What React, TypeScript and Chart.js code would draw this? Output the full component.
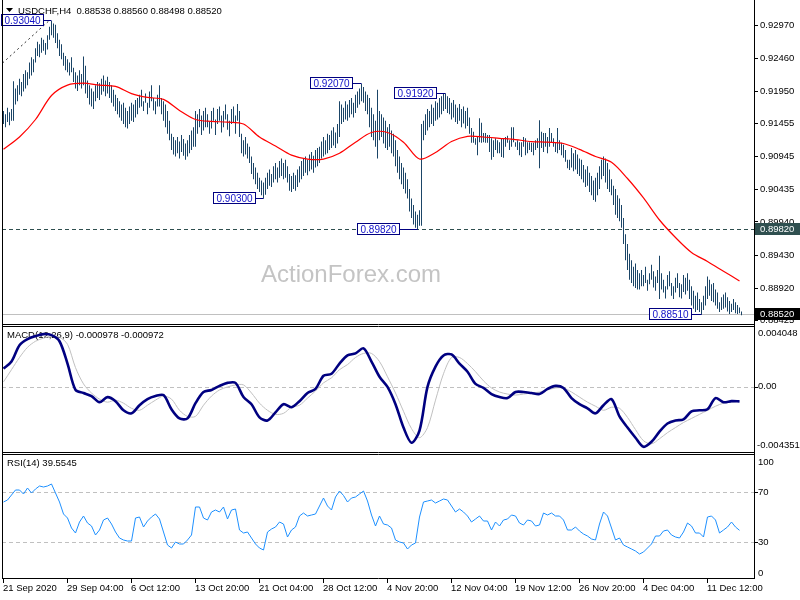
import React, { useEffect, useRef } from 'react';
import { Chart, registerables } from 'chart.js';
Chart.register(...registerables);

// ---------- DATA ----------
const symbolTitle = 'USDCHF,H4';
const lastOHLC = [0.88538, 0.8856, 0.88498, 0.8852];
const watermark = 'ActionForex.com';

// bar highs / lows in pips (0.0001)
const highPips = [
  9165,9160,9170,9163,9168,9211,9200,9205,9215,9210,
  9222,9228,9225,9240,9248,9245,9262,9272,9268,9278,
  9275,9270,9282,9295,9304,9300,9298,9285,9275,9268,
  9255,9250,9245,9240,9248,9232,9225,9220,9228,9222,
  9249,9235,9212,9205,9200,9195,9205,9210,9208,9215,
  9220,9212,9218,9210,9205,9198,9190,9185,9180,9175,
  9178,9170,9165,9172,9178,9175,9182,9185,9190,9198,
  9180,9192,9178,9195,9205,9185,9180,9190,9205,9185,
  9180,9175,9165,9150,9130,9125,9120,9125,9118,9128,
  9122,9115,9120,9128,9135,9140,9165,9160,9168,9158,
  9165,9170,9160,9148,9165,9170,9152,9168,9172,9158,
  9165,9175,9160,9150,9168,9172,9158,9176,9165,9130,
  9120,9125,9115,9110,9095,9085,9078,9070,9062,9058,
  9055,9062,9070,9075,9068,9080,9085,9078,9088,9092,
  9085,9090,9080,9068,9065,9070,9066,9075,9080,9088,
  9092,9095,9090,9098,9102,9096,9105,9108,9110,9118,
  9125,9120,9130,9128,9135,9140,9132,9145,9180,9175,
  9170,9180,9175,9182,9185,9178,9190,9195,9200,9207,
  9202,9195,9190,9185,9170,9160,9150,9198,9165,9160,
  9155,9150,9140,9145,9135,9130,9120,9105,9095,9085,
  9078,9070,9060,9045,9030,9020,9010,9005,9012,9145,
  9150,9160,9168,9165,9175,9170,9180,9178,9185,9188,
  9192,9192,9188,9185,9178,9182,9175,9170,9176,9168,
  9172,9165,9170,9155,9139,9133,9123,9125,9154,9147,
  9131,9131,9128,9128,9123,9120,9123,9120,9117,9123,
  9123,9125,9127,9120,9140,9140,9117,9120,9117,9117,
  9125,9123,9117,9117,9116,9116,9120,9123,9151,9133,
  9131,9131,9125,9139,9131,9123,9117,9139,9120,9116,
  9113,9105,9090,9090,9108,9100,9105,9098,9092,9090,
  9082,9075,9080,9070,9065,9058,9062,9070,9080,9090,
  9095,9092,9085,9075,9060,9050,9045,9035,9030,9020,
  9000,8975,8960,8945,8935,8925,8930,8920,8915,8920,
  8912,8925,8905,8915,8928,8918,8910,8920,8942,8915,
  8905,8895,8912,8918,8900,8895,8908,8915,8900,8898,
  8912,8908,8915,8905,8895,8888,8880,8885,8875,8870,
  8880,8895,8910,8905,8898,8900,8890,8885,8870,8878,
  8882,8885,8878,8872,8868,8875,8870,8866,8862,8856,
];
const lowPips = [
  9145,9140,9148,9143,9150,9150,9175,9180,9190,9188,
  9195,9200,9205,9215,9220,9225,9240,9250,9248,9255,
  9258,9252,9260,9275,9282,9278,9270,9262,9250,9245,
  9235,9228,9225,9220,9225,9210,9200,9196,9205,9200,
  9205,9192,9185,9175,9172,9168,9180,9185,9182,9190,
  9195,9188,9192,9185,9178,9172,9165,9160,9155,9150,
  9145,9140,9138,9145,9150,9148,9155,9160,9170,9172,
  9165,9178,9160,9170,9180,9166,9160,9172,9172,9160,
  9150,9140,9130,9120,9105,9098,9095,9100,9092,9102,
  9096,9090,9095,9100,9105,9110,9110,9130,9140,9128,
  9135,9140,9140,9130,9138,9150,9128,9145,9150,9132,
  9140,9152,9136,9126,9145,9148,9130,9150,9125,9100,
  9095,9098,9092,9085,9068,9060,9052,9045,9040,9035,
  9030,9036,9045,9050,9048,9055,9060,9055,9062,9065,
  9060,9062,9055,9042,9040,9045,9042,9048,9055,9060,
  9065,9070,9066,9072,9075,9070,9078,9080,9085,9092,
  9095,9098,9100,9105,9108,9112,9108,9115,9125,9145,
  9148,9152,9150,9155,9160,9155,9162,9170,9175,9180,
  9178,9165,9160,9140,9125,9120,9110,9092,9120,9125,
  9115,9108,9105,9110,9100,9095,9080,9070,9060,9052,
  9045,9038,9030,9010,9000,8990,8985,8982,8988,8988,
  9120,9128,9135,9140,9145,9142,9150,9152,9155,9160,
  9165,9168,9162,9160,9152,9155,9148,9145,9150,9140,
  9146,9138,9142,9130,9116,9116,9113,9097,9117,9116,
  9117,9116,9116,9102,9090,9094,9105,9100,9100,9094,
  9093,9110,9116,9105,9110,9117,9110,9105,9097,9094,
  9110,9097,9100,9105,9102,9097,9105,9108,9077,9108,
  9102,9110,9100,9110,9116,9110,9102,9100,9105,9097,
  9093,9087,9077,9074,9078,9072,9075,9068,9065,9060,
  9055,9048,9050,9040,9035,9028,9025,9035,9045,9060,
  9065,9055,9045,9040,9035,9020,9005,9000,8995,8985,
  8960,8935,8920,8905,8900,8895,8892,8890,8890,8895,
  8895,8900,8888,8898,8905,8893,8888,8900,8875,8890,
  8885,8876,8890,8895,8880,8875,8885,8892,8878,8876,
  8886,8882,8888,8875,8865,8860,8855,8858,8855,8851,
  8858,8865,8875,8880,8872,8870,8865,8860,8855,8858,
  8860,8862,8856,8852,8855,8858,8853,8852,8853,8850,
];

// moving average (pips), one value every maStep bars
const maStep = 8;
const maPips = [
  9106,9125,9152,9189,9205,9208,9205,9203,9192,9186,9183,9166,9152,9149,9148,9145,
  9125,9111,9097,9091,9091,9100,9117,9132,9132,9117,9091,9101,9118,9126,9125,9123,
  9121,9118,9117,9115,9106,9095,9086,9061,9031,8997,8970,8947,8933,8918,8903,
];

// MACD main / signal (x 1e-6), one value every macdStep bars
const macdStep = 4;
const macdMain = [
  1205,1678,2762,3168,3371,3506,3439,3032,1543,-217,-420,-623,-1029,-691,-962,-1571,
  -1774,-1233,-826,-623,-556,-1503,-2113,-2113,-1097,-353,-217,54,257,257,-691,
  -1165,-2045,-2248,-1707,-1165,-1368,-962,-420,-149,731,866,1543,2085,2220,2559,1678,
  663,-14,-1165,-2722,-3738,-2925,-14,1340,2085,2152,1543,1001,189,-82,-488,-691,
  -759,-353,-353,-420,-488,-149,54,-82,-759,-1165,-1436,-1774,-1233,-826,-1977,-2722,
  -3399,-4008,-3670,-2993,-2451,-2248,-2180,-1639,-1571,-1503,-759,-1029,-962,-978,
];
const macdSignal = [
  324,1137,1949,2626,3032,3236,3371,3303,2829,1272,189,-420,-826,-1029,-894,-1097,
  -1436,-1571,-1233,-894,-623,-826,-1571,-1978,-1978,-1233,-623,-217,-16,121,121,
  -420,-1097,-1571,-1842,-1774,-1368,-1233,-759,-284,257,595,1137,1475,1949,2220,2220,
  1678,663,-420,-1639,-2790,-3399,-2722,-894,866,1949,1949,1543,1001,392,-82,-353,
  -488,-556,-488,-420,-353,-217,-82,-82,-353,-691,-1029,-1300,-1571,-1368,-1436,-2045,
  -2858,-3602,-3806,-3467,-3061,-2722,-2384,-2113,-1842,-1571,-1300,-1097,-1029,-972,
];

// RSI(14), one value every rsiStep bars
const rsiStep = 2;
const rsiValues = [
  62.2,63.8,67.8,71.8,71.8,68.6,73.4,69.4,72.6,75,
  74.2,75,76.6,69.4,62.2,52.6,49.4,41.4,37.4,46.2,
  51,45.4,43,35.8,39.8,47.8,49.4,44.6,38.2,33.4,
  31.8,31,31,49.4,50.2,42.2,47,50.2,52.6,48.6,
  38.2,27.8,25.4,30.2,28.6,28.6,31.8,35.8,58.2,58.2,
  49.4,47.8,54.2,55.8,54.2,58.2,48.6,55.8,56.6,39.8,
  37.4,38.2,33.4,28.6,25.4,23.8,38.2,40.6,42.2,46.2,
  44.6,34.2,39.8,42.2,51,53.4,51,51.8,52.6,59,
  65.4,59,55.8,66.2,71,67.4,62.2,65.4,66.2,68.6,
  71,63,51.8,43,51,44.6,43.8,41.4,31.8,30.2,
  29.4,24.6,27.8,29.4,50.2,62.2,63,63.8,61.4,63,
  64.6,63.8,59,54.2,56.6,54.2,51,46.2,48.6,51,
  47,47,39.8,46.2,43,47.8,48.6,51.8,51,45.4,
  43.8,47.8,47,43,43.8,53.4,51.8,53.4,51,51,
  47.8,39.8,39.8,42.2,39,36.6,35,32.6,31.8,44.6,
  54.2,51,41.4,31.8,33.4,27.8,26.2,24.6,23,20.6,
  22.2,25.4,28.6,35,35,39,39.8,35.8,34.2,33.4,
  38.2,45.4,43,37.4,37.4,34.2,50.2,51,47.8,37.4,
  39.8,42.2,46.2,42.2,39.5545,
];

const priceTicks = [0.88425, 0.8892, 0.8943, 0.8994, 0.90435, 0.90945, 0.91455, 0.9195, 0.9246, 0.9297];
const macdMax = 0.004048;
const macdMin = -0.004351;
const rsiLevels = [70, 30];
const timeLabels = [
  '21 Sep 2020', '29 Sep 04:00', '6 Oct 12:00', '13 Oct 20:00', '21 Oct 04:00', '28 Oct 12:00',
  '4 Nov 20:00', '12 Nov 04:00', '19 Nov 12:00', '26 Nov 20:00', '4 Dec 04:00', '11 Dec 12:00',
];
const timeLabelEvery = 32;
const swingBars = [24, 179, 221, 130, 207, 349];
const swingPrices = [0.9304, 0.9207, 0.9192, 0.903, 0.8982, 0.8851];
const supportLevel = 0.8982;
const trendBars = [-0.5, 23];
const trendPrices = [0.9239, 0.9305];

// ---------- STYLE ----------
const FONT = '"Liberation Sans", Arial, sans-serif';
const PAD_L = 2;
const PAD_R = 46;
const X_MIN = -0.75;
const X_MAX = 375.25;
const BAR_COLOR = '#1b4567';
const swingGaps = [8, 10, 9, 9, 19, 11];

function hline(ctx: CanvasRenderingContext2D, x1: number, x2: number, y: number, color: string) {
  ctx.strokeStyle = color;
  ctx.lineWidth = 1;
  ctx.beginPath();
  ctx.moveTo(x1, y);
  ctx.lineTo(x2, y);
  ctx.stroke();
}
function vline(ctx: CanvasRenderingContext2D, x: number, y1: number, y2: number, color: string) {
  ctx.strokeStyle = color;
  ctx.lineWidth = 1;
  ctx.beginPath();
  ctx.moveTo(x, y1);
  ctx.lineTo(x, y2);
  ctx.stroke();
}

function panelOptions(yMin: number, yMax: number, padTop: number, padBottom: number): any {
  return {
    animation: false,
    responsive: false,
    maintainAspectRatio: false,
    devicePixelRatio: 1,
    events: [],
    layout: { padding: { left: PAD_L, right: PAD_R, top: padTop, bottom: padBottom } },
    plugins: { legend: { display: false }, tooltip: { enabled: false }, title: { display: false } },
    scales: {
      x: { type: 'linear', min: X_MIN, max: X_MAX, display: false, offset: false },
      y: { type: 'linear', min: yMin, max: yMax, display: false },
    },
  };
}

const mainDecor = {
  id: 'mainDecor',
  beforeDatasetsDraw(chart: any) {
    const { ctx, chartArea: a, scales } = chart;
    const y = scales.y;
    ctx.save();
    ctx.font = `24px ${FONT}`;
    ctx.fillStyle = '#c4c4c4';
    ctx.textAlign = 'center';
    ctx.textBaseline = 'middle';
    ctx.fillText(watermark, a.left + 349, 275);

    const yc = Math.floor(y.getPixelForValue(lastOHLC[3])) + 0.5;
    hline(ctx, a.left, a.right, yc, '#c0c0c0');
    const ys = Math.floor(y.getPixelForValue(supportLevel)) + 0.5;
    ctx.setLineDash([4, 3]);
    hline(ctx, a.left, a.right, ys, '#2f4f4f');
    ctx.setLineDash([]);

    ctx.fillStyle = '#000';
    ctx.beginPath();
    ctx.moveTo(6, 8);
    ctx.lineTo(13, 8);
    ctx.lineTo(9.5, 12);
    ctx.closePath();
    ctx.fill();
    ctx.font = `9.5px ${FONT}`;
    ctx.textAlign = 'left';
    ctx.textBaseline = 'middle';
    ctx.fillText(`${symbolTitle}  ${lastOHLC.map((v) => v.toFixed(5)).join(' ')}`, 18, 11);
    ctx.restore();
  },
  afterDatasetsDraw(chart: any) {
    const { ctx, chartArea: a, scales, height } = chart;
    const x = scales.x;
    const y = scales.y;
    ctx.save();
    ctx.font = `10px ${FONT}`;
    ctx.textAlign = 'left';
    ctx.textBaseline = 'middle';
    swingBars.forEach((bar, n) => {
      const px = x.getPixelForValue(bar);
      const py = Math.floor(y.getPixelForValue(swingPrices[n])) + 0.5;
      const txt = swingPrices[n].toFixed(5);
      const tw = ctx.measureText(txt).width;
      const right = Math.round(px - swingGaps[n]) + 0.5;
      const w = Math.round(tw + 6);
      ctx.fillStyle = '#fff';
      ctx.fillRect(right - w, py - 6, w, 11);
      ctx.strokeStyle = '#000080';
      ctx.lineWidth = 1;
      ctx.strokeRect(right - w, py - 6, w, 11);
      hline(ctx, right, px, py, '#000080');
      ctx.fillStyle = '#1010c8';
      ctx.fillText(txt, right - w + 3, py + 0.5);
    });

    vline(ctx, a.left + 0.5, 0, a.bottom + 1, '#000');
    hline(ctx, a.left, a.right + 1, a.bottom + 0.5, '#000');
    vline(ctx, a.right + 0.5, 0, height, '#000');

    ctx.font = `9.5px ${FONT}`;
    priceTicks.forEach((p) => {
      const py = y.getPixelForValue(p);
      hline(ctx, a.right, a.right + 4, Math.floor(py) + 0.5, '#000');
      ctx.fillStyle = '#000';
      ctx.fillText(p.toFixed(5), a.right + 6, py);
    });
    const ys = Math.floor(y.getPixelForValue(supportLevel));
    ctx.fillStyle = '#2f4f4f';
    ctx.fillRect(a.right + 1, ys - 6, 46, 12);
    ctx.fillStyle = '#fff';
    ctx.fillText(supportLevel.toFixed(5), a.right + 6, ys + 0.5);
    const yc = Math.floor(y.getPixelForValue(lastOHLC[3]));
    ctx.fillStyle = '#000';
    ctx.fillRect(a.right + 1, yc - 6, 46, 12);
    ctx.fillStyle = '#fff';
    ctx.fillText(lastOHLC[3].toFixed(5), a.right + 6, yc + 0.5);
    ctx.restore();
  },
};

const macdDecor = {
  id: 'macdDecor',
  beforeDatasetsDraw(chart: any) {
    const { ctx, chartArea: a, scales } = chart;
    ctx.save();
    const y0 = Math.round(scales.y.getPixelForValue(0)) + 0.5;
    ctx.setLineDash([4, 3]);
    hline(ctx, a.left, a.right, y0, '#c0c0c0');
    ctx.setLineDash([]);
    ctx.font = `9.5px ${FONT}`;
    ctx.fillStyle = '#000';
    ctx.textAlign = 'left';
    ctx.textBaseline = 'middle';
    const m = macdMain[macdMain.length - 1] / 1e6;
    const s = macdSignal[macdSignal.length - 1] / 1e6;
    ctx.fillText(`MACD(12,26,9) ${m.toFixed(6)} ${s.toFixed(6)}`, 7, a.top + 9);
    ctx.restore();
  },
  afterDatasetsDraw(chart: any) {
    const { ctx, chartArea: a, scales, height } = chart;
    ctx.save();
    hline(ctx, a.left, a.right + 1, a.top + 0.5, '#000');
    hline(ctx, a.left, a.right + 1, a.bottom + 0.5, '#000');
    vline(ctx, a.left + 0.5, 0, height, '#000');
    vline(ctx, a.right + 0.5, 0, height, '#000');
    ctx.font = `9.5px ${FONT}`;
    ctx.fillStyle = '#000';
    ctx.textAlign = 'left';
    ctx.textBaseline = 'middle';
    ctx.fillText(macdMax.toFixed(6), a.right + 4, a.top + 7);
    const y0 = scales.y.getPixelForValue(0);
    hline(ctx, a.right, a.right + 4, Math.round(y0) + 0.5, '#000');
    ctx.fillText('0.00', a.right + 4, y0);
    ctx.fillText(macdMin.toFixed(6), a.right + 3, a.bottom - 7);
    ctx.restore();
  },
};

const rsiDecor = {
  id: 'rsiDecor',
  beforeDatasetsDraw(chart: any) {
    const { ctx, chartArea: a, scales } = chart;
    ctx.save();
    ctx.setLineDash([4, 3]);
    rsiLevels.forEach((lv) => {
      const yl = Math.round(scales.y.getPixelForValue(lv)) + 0.5;
      hline(ctx, a.left, a.right, yl, '#c0c0c0');
    });
    ctx.setLineDash([]);
    ctx.font = `9.5px ${FONT}`;
    ctx.fillStyle = '#000';
    ctx.textAlign = 'left';
    ctx.textBaseline = 'middle';
    ctx.fillText(`RSI(14) ${rsiValues[rsiValues.length - 1].toFixed(4)}`, 7, a.top + 9);
    ctx.restore();
  },
  afterDatasetsDraw(chart: any) {
    const { ctx, chartArea: a, scales } = chart;
    ctx.save();
    hline(ctx, a.left, a.right + 1, a.top + 0.5, '#000');
    hline(ctx, a.left, a.right + 1, a.bottom + 0.5, '#000');
    vline(ctx, a.left + 0.5, 0, a.bottom + 1, '#000');
    vline(ctx, a.right + 0.5, 0, a.bottom + 1, '#000');
    ctx.font = `9.5px ${FONT}`;
    ctx.fillStyle = '#000';
    ctx.textAlign = 'left';
    ctx.textBaseline = 'middle';
    ctx.fillText('100', a.right + 4, a.top + 8);
    rsiLevels.forEach((lv) => {
      const yl = scales.y.getPixelForValue(lv);
      hline(ctx, a.right, a.right + 4, Math.round(yl) + 0.5, '#000');
      ctx.fillText(String(lv), a.right + 4, yl);
    });
    ctx.fillText('0', a.right + 4, a.bottom - 5);
    timeLabels.forEach((lbl, k) => {
      const px = Math.floor(scales.x.getPixelForValue(k * timeLabelEvery)) + 0.5;
      vline(ctx, px, a.bottom + 1, a.bottom + 5, '#000');
      ctx.fillText(lbl, px - 0.5, a.bottom + 10);
    });
    ctx.restore();
  },
};

export default function App() {
  const mainRef = useRef<HTMLCanvasElement>(null);
  const macdRef = useRef<HTMLCanvasElement>(null);
  const rsiRef = useRef<HTMLCanvasElement>(null);

  useEffect(() => {
    const charts: Chart[] = [];
    const barData = highPips.map((h, i) => ({ x: i, y: [lowPips[i] / 1e4, h / 1e4] }));
    const maData = maPips.map((v, k) => ({ x: k * maStep, y: v / 1e4 }));
    const trendData = trendBars.map((b, k) => ({ x: b, y: trendPrices[k] }));

    charts.push(
      new Chart(mainRef.current as HTMLCanvasElement, {
        type: 'bar',
        data: {
          datasets: [
            {
              type: 'line',
              data: trendData,
              borderColor: '#303030',
              borderWidth: 1,
              borderDash: [2, 3],
              pointRadius: 0,
              order: 0,
            } as any,
            {
              type: 'line',
              data: maData,
              borderColor: '#ff0000',
              borderWidth: 1.2,
              pointRadius: 0,
              tension: 0.3,
              order: 1,
            } as any,
            {
              type: 'bar',
              data: barData,
              backgroundColor: BAR_COLOR,
              borderWidth: 0,
              barThickness: 1,
              inflateAmount: 0,
              grouped: false,
              order: 2,
            } as any,
          ],
        },
        options: panelOptions(0.88366, 0.93363, 0, 1),
        plugins: [mainDecor],
      } as any)
    );

    charts.push(
      new Chart(macdRef.current as HTMLCanvasElement, {
        type: 'line',
        data: {
          datasets: [
            {
              data: macdMain.map((v, k) => ({ x: k * macdStep, y: v / 1e6 })),
              borderColor: '#000080',
              borderWidth: 2.6,
              pointRadius: 0,
              tension: 0.3,
              order: 0,
            },
            {
              data: macdSignal.map((v, k) => ({ x: k * macdStep, y: v / 1e6 })),
              borderColor: '#c0c0c0',
              borderWidth: 1,
              pointRadius: 0,
              tension: 0.3,
              order: 1,
            },
          ],
        },
        options: panelOptions(macdMin, macdMax, 1, 1),
        plugins: [macdDecor],
      } as any)
    );

    charts.push(
      new Chart(rsiRef.current as HTMLCanvasElement, {
        type: 'line',
        data: {
          datasets: [
            {
              data: rsiValues.map((v, k) => ({ x: k * rsiStep, y: v })),
              borderColor: '#1e90ff',
              borderWidth: 1,
              pointRadius: 0,
              tension: 0,
            },
          ],
        },
        options: panelOptions(1.4, 100.6, 1, 22),
        plugins: [rsiDecor],
      } as any)
    );

    return () => charts.forEach((c) => c.destroy());
  }, []);

  const cs = (top: number, h: number): React.CSSProperties => ({
    position: 'absolute',
    left: 0,
    top,
    width: 800,
    height: h,
    display: 'block',
  });

  return (
    <div style={{ position: 'absolute', left: 0, top: 0, width: 800, height: 600, background: '#fff', overflow: 'hidden' }}>
      <canvas ref={mainRef} width={800} height={325} style={cs(0, 325)} />
      <canvas ref={macdRef} width={800} height={128} style={cs(325, 128)} />
      <canvas ref={rsiRef} width={800} height={147} style={cs(453, 147)} />
    </div>
  );
}
